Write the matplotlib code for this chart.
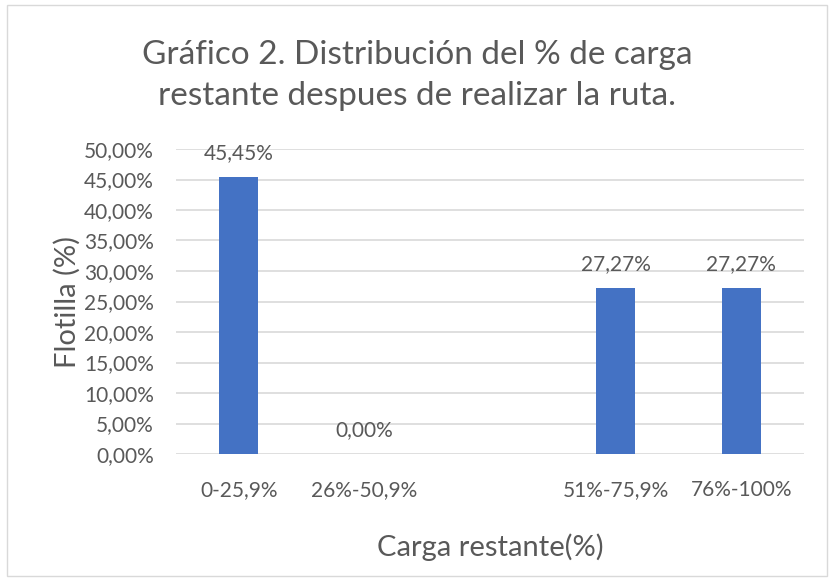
#! /usr/bin/env python3
# -*- coding: utf-8 -*-
"""
    bar chart: distribucion del % de carga restante
"""
import numpy as np
import matplotlib
matplotlib.use("Agg")
import matplotlib.pyplot as plt
from matplotlib.patches import Rectangle
from matplotlib.ticker import FuncFormatter

categories = ["0-25,9%", "26%-50,9%", "", "51%-75,9%", "76%-100%"]
values = [45.45, 0.0, np.nan, 27.27, 27.27]
yticks = [0, 5, 10, 15, 20, 25, 30, 35, 40, 45, 50]

plt.rcParams['font.family'] = ['Lato', 'DejaVu Sans']
txt = '#595959'

fig = plt.figure(figsize=(8.34, 5.81), dpi=100)
fig.patches.append(Rectangle((0.008, 0.008), 0.984, 0.984, transform=fig.transFigure,
                             fill=False, edgecolor='#D9D9D9', linewidth=1))
ax = fig.add_axes([176 / 834, 1 - 454 / 581, 628 / 834, 305 / 581])

x = np.arange(len(categories))
ax.bar(x, values, width=0.31, color='#4472C4', zorder=3)
for xi, v in zip(x, values):
    if np.isnan(v):
        continue
    ax.annotate(f"{v:.2f}%".replace('.', ','), (xi, v), xytext=(0, 10),
                textcoords='offset points', ha='center', va='bottom',
                fontsize=15, color=txt)

ax.set_xlim(-0.5, len(categories) - 0.5)
ax.set_ylim(0, 50)
ax.set_yticks(yticks)
ax.yaxis.set_major_formatter(FuncFormatter(lambda v, p: f"{v:.2f}%".replace('.', ',')))
ax.set_xticks(x)
ax.set_xticklabels(categories)
ax.tick_params(axis='both', length=0, labelsize=15, labelcolor=txt)
ax.tick_params(axis='x', pad=19)
ax.tick_params(axis='y', pad=16)
ax.grid(axis='y', color='#D9D9D9', linewidth=1.2, zorder=0)
for s in ax.spines.values():
    s.set_visible(False)

ax.set_xlabel("Carga restante(%)", fontsize=21, color=txt, labelpad=24)
ax.set_ylabel("Flotilla (%)", fontsize=21, color=txt, labelpad=2)
fig.text(0.5, 0.87, "Gráfico 2. Distribución del % de carga\nrestante despues de realizar la ruta.",
         ha='center', va='center', fontsize=24, color=txt, linespacing=1.45)

plt.savefig("out.png", dpi=100)
